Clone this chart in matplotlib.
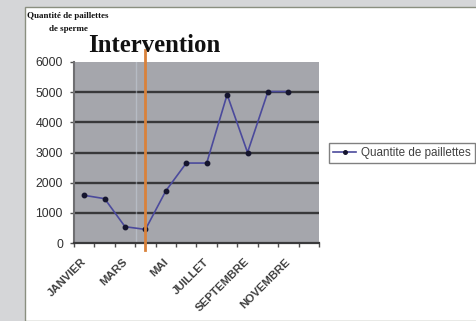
import numpy as np
import matplotlib
matplotlib.use("Agg")
import matplotlib.pyplot as plt
from matplotlib.patches import Rectangle

months = ["JANVIER", "FEVRIER", "MARS", "AVRIL", "MAI", "JUIN", "JUILLET",
          "AOUT", "SEPTEMBRE", "OCTOBRE", "NOVEMBRE", "DECEMBRE"]
quantities = [1580, 1470, 540, 450, 1730, 2650, 2650, 4920, 3000, 5020, 5020, np.nan]
shown_labels = ["JANVIER", "MARS", "MAI", "JUILLET", "SEPTEMBRE", "NOVEMBRE"]
y_ticks = [0, 1000, 2000, 3000, 4000, 5000, 6000]
intervention_month = "AVRIL"
series_name = "Quantite de paillettes"

W, H = 477, 321
fig = plt.figure(figsize=(W / 100, H / 100), dpi=100)
fig.patch.set_facecolor("#d5d6d8")

# white chart panel
panel = Rectangle((25 / W, 0), 1 - 25 / W, 1 - 7 / H, transform=fig.transFigure,
                  facecolor="white", edgecolor="#8a8f80", linewidth=1.0, zorder=-5)
fig.patches.append(panel)

left, right, top, bottom = 74, 319, 62, 243
ax = fig.add_axes([left / W, 1 - bottom / H, (right - left) / W, (bottom - top) / H])
ax.set_zorder(2)
ax.set_facecolor("#a5a6ac")

x = np.arange(len(months))
ax.set_xlim(-0.5, len(months) - 0.5)
ax.set_ylim(0, 6000)

for v in y_ticks[1:-1]:
    ax.axhline(v, color="#38383a", linewidth=1.7, zorder=1)

# faint light line left of the intervention
ax.axvline(x[months.index(intervention_month)] - 0.45, color="#c8d0dc",
           linewidth=1.0, alpha=0.5, zorder=1)

ax.plot(x, quantities, color="#4b4a9c", linewidth=1.2, marker="o",
        markersize=3.2, markerfacecolor="#15152e", markeredgecolor="#15152e",
        zorder=3, label=series_name)

xi = x[months.index(intervention_month)]
ax.axvline(xi, ymin=-0.04, ymax=1.066, color="#d9823b", linewidth=2.0,
           clip_on=False, zorder=4)

for s in ["top", "right"]:
    ax.spines[s].set_visible(False)
ax.spines["left"].set_color("#6f6f72")
ax.spines["left"].set_linewidth(1.5)
ax.spines["bottom"].set_color("#3a3a3c")
ax.spines["bottom"].set_linewidth(1.6)

ax.set_yticks(y_ticks)
ax.set_yticklabels([str(v) for v in y_ticks], fontsize=8.8,
                   family="Liberation Sans", color="#303030")
ax.tick_params(axis="y", length=3, width=1, color="#505050", pad=5)

ax.set_xticks(np.arange(len(months) + 1) - 0.5)
ax.set_xticklabels([])
ax.tick_params(axis="x", length=3, width=1, color="#505050", direction="out")
for m in shown_labels:
    ax.text(months.index(m) - 0.15, -450, m, rotation=45, rotation_mode="anchor",
            ha="right", va="top", fontsize=8.2, family="Liberation Sans",
            fontweight="bold", color="#404040")

fig.text(154 / W, 1 - 52 / H, "Intervention", ha="center", va="baseline",
         fontsize=17.8, family="Liberation Serif", fontweight="bold", color="#111111")
fig.text(68 / W, 1 - 12 / H, "Quantité de paillettes\nde sperme", ha="center",
         va="top", fontsize=6.5, family="Liberation Serif", fontweight="bold",
         color="#111111", linespacing=1.9)

leg = fig.legend(loc="center left", bbox_to_anchor=(329 / W, 1 - 153 / H),
                 borderaxespad=0, frameon=True, fancybox=False,
                 prop={"family": "Liberation Sans", "size": 8.4},
                 handlelength=2.0, borderpad=0.35, handletextpad=0.4,
                 markerscale=0.8)
leg.get_frame().set_edgecolor("#606060")
leg.get_frame().set_linewidth(1.0)
for t in leg.get_texts():
    t.set_color("#404040")

fig.savefig("out.png", dpi=100, facecolor=fig.get_facecolor())
